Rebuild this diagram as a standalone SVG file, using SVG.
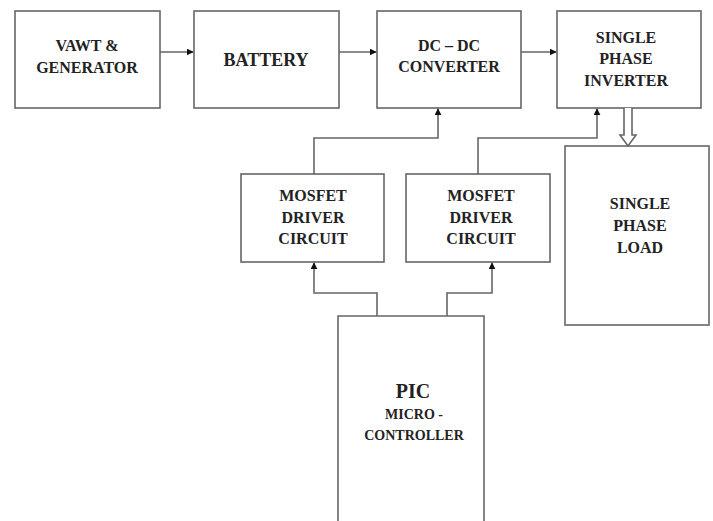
<svg xmlns="http://www.w3.org/2000/svg" width="713" height="521" viewBox="0 0 713 521">
<defs>
<style>
.box{fill:#fff;stroke:#666;stroke-width:1.6}
.ln{fill:none;stroke:#666;stroke-width:1.6}
.t{font-family:"Liberation Serif","Times New Roman",serif;font-weight:bold;font-size:16px;fill:#222;text-anchor:middle}
</style>
<marker id="ah" viewBox="0 0 10 10" refX="9" refY="5" markerWidth="7" markerHeight="7" orient="auto" markerUnits="userSpaceOnUse">
<path d="M0,0 L10,5 L0,10 z" fill="#111"/>
</marker>
</defs>
<rect width="713" height="521" fill="#fff"/>
<g id="vawt"><rect class="box" x="15" y="11" width="145" height="97"/><text class="t" x="87" y="51">VAWT &amp;</text><text class="t" x="87" y="73">GENERATOR</text></g>
<g id="battery"><rect class="box" x="194" y="11" width="145" height="97"/><text class="t" x="266" y="66" style="font-size:18px">BATTERY</text></g>
<g id="dcdc"><rect class="box" x="377" y="11" width="144" height="97"/><text class="t" x="449" y="51">DC – DC</text><text class="t" x="449" y="72">CONVERTER</text></g>
<g id="inverter"><rect class="box" x="557" y="11" width="144" height="97"/><text class="t" x="626" y="43">SINGLE</text><text class="t" x="626" y="64">PHASE</text><text class="t" x="626" y="86">INVERTER</text></g>
<g id="load"><rect class="box" x="565" y="146" width="144" height="179"/><text class="t" x="640" y="209">SINGLE</text><text class="t" x="640" y="231">PHASE</text><text class="t" x="640" y="253">LOAD</text></g>
<g id="mosfet1"><rect class="box" x="241" y="174" width="143" height="88"/><text class="t" x="313" y="201">MOSFET</text><text class="t" x="313" y="223">DRIVER</text><text class="t" x="313" y="244">CIRCUIT</text></g>
<g id="mosfet2"><rect class="box" x="406" y="174" width="144" height="88"/><text class="t" x="481" y="201">MOSFET</text><text class="t" x="481" y="223">DRIVER</text><text class="t" x="481" y="244">CIRCUIT</text></g>
<g id="pic"><path class="box" d="M338,524 V316 H484 V524"/><text class="t" x="413" y="398" style="font-size:20px">PIC</text><text class="t" x="414" y="419" style="font-size:14px">MICRO -</text><text class="t" x="414" y="440" style="font-size:14px">CONTROLLER</text></g>
<g id="connectors">
<path class="ln" d="M160,52 H193" marker-end="url(#ah)"/>
<path class="ln" d="M339,52 H376" marker-end="url(#ah)"/>
<path class="ln" d="M521,52 H556" marker-end="url(#ah)"/>
<path class="ln" d="M314,174 V138 H438 V109" marker-end="url(#ah)"/>
<path class="ln" d="M478,174 V138 H597 V109" marker-end="url(#ah)"/>
<path class="ln" d="M377,316 V293 H314 V263" marker-end="url(#ah)"/>
<path class="ln" d="M447,316 V293 H492 V263" marker-end="url(#ah)"/>
<path class="box" d="M624,108 V135 H620 L628,146 L636,135 H632 V108"/>
</g>
</svg>
